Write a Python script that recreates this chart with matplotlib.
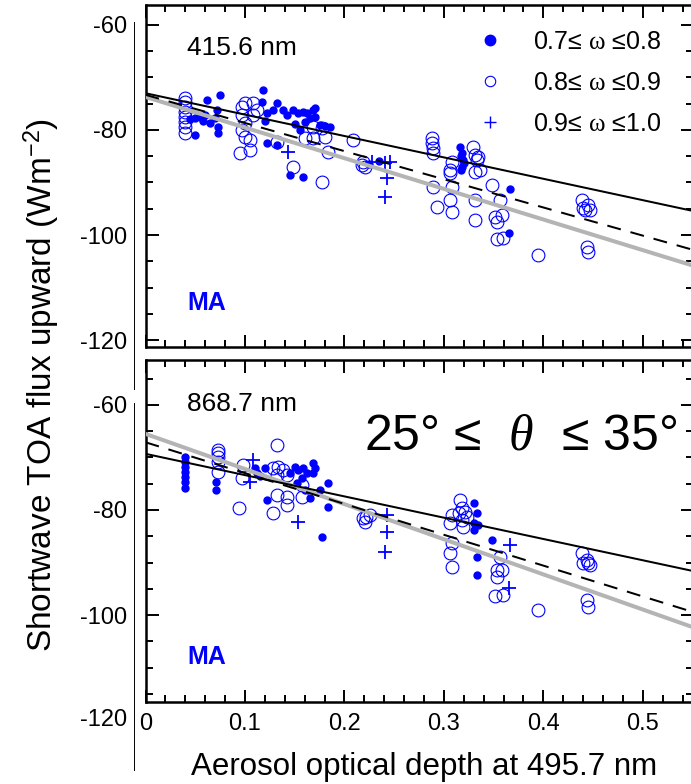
import matplotlib
matplotlib.use('Agg')
import matplotlib.pyplot as plt
from matplotlib.lines import Line2D
from matplotlib.ticker import MultipleLocator

plt.rcParams['font.family'] = ['Liberation Sans', 'DejaVu Sans']
plt.rcParams['axes.unicode_minus'] = False
plt.rcParams['mathtext.fontset'] = 'custom'
plt.rcParams['mathtext.rm'] = 'Liberation Serif'
plt.rcParams['mathtext.it'] = 'Liberation Serif:italic'

BLUE = '#0000ff'

# ---- fitted lines (value at AOD = 0 and AOD = 0.55)
fit_x = [0.0, 0.55]
top_fit_solid = [-73.0, -95.4]
top_fit_dashed = [-73.3, -102.8]
top_fit_gray = [-73.7, -105.8]
bot_fit_solid = [-69.3, -91.6]
bot_fit_dashed = [-67.1, -99.4]
bot_fit_gray = [-65.5, -102.3]

# ---- 415.6 nm panel
top_filled_x = [0.050, 0.055, 0.062, 0.060, 0.065, 0.070, 0.072, 0.075, 0.073, 0.073, 0.050, 0.045, 0.058,
                0.118, 0.117, 0.122, 0.128, 0.132, 0.138, 0.142, 0.148, 0.153, 0.158,
                0.162, 0.168, 0.170, 0.165, 0.160, 0.175, 0.180, 0.186, 0.170, 0.132,
                0.145, 0.158, 0.122, 0.120, 0.150, 0.155,
                0.225, 0.235,
                0.316, 0.318, 0.317, 0.319, 0.318, 0.317, 0.320,
                0.366, 0.365]
top_filled_y = [-77.7, -77.5, -74.3, -77.1, -78.7, -77.7, -76.2, -73.3, -80.6, -79.4, -81.0, -78.0, -78.3,
                -72.4, -74.7, -76.8, -76.2, -74.9, -76.2, -77.1, -76.2, -76.8, -76.6,
                -76.8, -76.2, -77.5, -77.8, -78.5, -79.0, -79.2, -79.4, -75.8, -82.9,
                -88.6, -89.0, -82.5, -78.3, -78.9, -80.0,
                -86.5, -86.0,
                -83.2, -84.4, -85.0, -85.7, -87.0, -87.6, -86.3,
                -91.3, -99.6]

top_open_x = [0.040, 0.040, 0.040, 0.040, 0.040, 0.040, 0.040, 0.040,
              0.100, 0.097, 0.108, 0.112, 0.097, 0.108, 0.100, 0.097, 0.100, 0.105, 0.095, 0.105,
              0.132, 0.148,
              0.160, 0.168, 0.177, 0.180, 0.183, 0.168, 0.177,
              0.209, 0.218, 0.221, 0.219,
              0.288, 0.288, 0.289, 0.289, 0.289, 0.293,
              0.306, 0.306, 0.308, 0.306, 0.308, 0.308,
              0.329, 0.331, 0.334, 0.333, 0.331, 0.336,
              0.348, 0.356, 0.331, 0.331, 0.351, 0.353, 0.358, 0.353, 0.359,
              0.395,
              0.439, 0.440, 0.445, 0.442, 0.447, 0.444, 0.445]
top_open_y = [-73.9, -74.7, -75.6, -76.6, -77.5, -78.5, -79.4, -80.6,
              -74.9, -75.6, -74.9, -76.2, -77.1, -77.1, -78.7, -80.0, -81.3, -81.9, -84.4, -83.8,
              -82.3, -87.0,
              -81.5, -81.5, -79.6, -81.3, -84.2, -79.4, -90.0,
              -81.9, -86.7, -87.0, -86.1,
              -81.5, -82.5, -83.4, -84.4, -90.9, -94.7,
              -88.2, -87.6, -86.1, -93.3, -95.6, -90.9,
              -83.2, -84.8, -85.1, -85.7, -88.0, -87.6,
              -90.5, -93.3, -93.3, -97.1, -96.6, -97.5, -96.2, -100.8, -100.6,
              -103.8,
              -93.3, -94.9, -94.3, -95.2, -95.2, -102.3, -103.2]

top_plus_x = [0.143, 0.228, 0.241, 0.246, 0.243, 0.241]
top_plus_y = [-84.2, -86.1, -86.3, -86.1, -89.1, -92.8]

# ---- 868.7 nm panel
bot_filled_x = [0.040, 0.040, 0.040, 0.040, 0.040, 0.040, 0.040,
                0.071, 0.071,
                0.110, 0.112, 0.120, 0.122, 0.150, 0.153, 0.158, 0.162, 0.157, 0.168,
                0.170, 0.168, 0.160, 0.175, 0.184, 0.183, 0.177, 0.152, 0.165, 0.115, 0.145,
                0.330, 0.333, 0.330, 0.334, 0.330, 0.333, 0.333, 0.348]
bot_filled_y = [-69.9, -70.9, -71.8, -72.8, -73.7, -74.7, -75.8,
                -74.7, -76.2,
                -72.0, -72.9, -72.0, -78.1, -71.8, -72.4, -72.0, -72.9, -73.9, -71.0,
                -72.0, -72.9, -76.2, -76.2, -74.9, -79.4, -85.1, -74.9, -77.7, -73.5, -73.0,
                -78.7, -80.6, -82.5, -82.9, -83.8, -89.0, -92.4, -85.7]

bot_open_x = [0.073, 0.073, 0.073, 0.073, 0.073,
              0.094, 0.098, 0.097,
              0.132, 0.128, 0.133, 0.138, 0.142, 0.132, 0.132, 0.142, 0.142, 0.128, 0.157, 0.157,
              0.219, 0.222, 0.226, 0.221,
              0.308, 0.306, 0.308, 0.306, 0.308, 0.316, 0.318, 0.321, 0.315, 0.318, 0.323, 0.319,
              0.356, 0.353, 0.358, 0.353, 0.351, 0.359,
              0.395,
              0.439, 0.440, 0.445, 0.444, 0.447, 0.444, 0.445]
bot_open_y = [-68.6, -69.1, -69.9, -70.9, -72.8,
              -79.6, -71.4, -73.9,
              -67.6, -72.0, -71.8, -72.4, -73.3, -73.3, -77.1, -77.5, -79.0, -80.6, -77.5, -75.2,
              -81.5, -81.3, -81.0, -82.3,
              -81.0, -82.5, -86.3, -88.2, -90.9, -78.1, -79.6, -80.4, -80.6, -81.9, -81.3, -83.2,
              -89.0, -91.4, -91.4, -92.8, -96.4, -96.2,
              -99.0,
              -88.2, -90.1, -90.1, -89.5, -90.5, -97.1, -98.5]

bot_plus_x = [0.108, 0.105, 0.153, 0.243, 0.243, 0.241, 0.366, 0.365]
bot_plus_y = [-70.5, -74.7, -82.3, -81.0, -84.2, -88.0, -86.7, -94.9]

legend_labels = [r'0.7≤ $\mathrm{\omega}$ ≤0.8',
                 r'0.8≤ $\mathrm{\omega}$ ≤0.9',
                 r'0.9≤ $\mathrm{\omega}$ ≤1.0']

fig = plt.figure(figsize=(6.91, 7.84), dpi=100)
L, W = 145.5 / 691, 547 / 691
ax1 = fig.add_axes([L, 1 - 347 / 784, W, 342.5 / 784])
ax2 = fig.add_axes([L, 1 - 702 / 784, W, 342 / 784])


def draw(ax, filled, opened, plus, solid, dashed, gray, ylim):
    ax.plot(*filled, ls='none', marker='o', ms=5, mfc=BLUE, mec=BLUE, zorder=2)
    ax.plot(*opened, ls='none', marker='o', ms=9.2, mfc='none', mec=BLUE, mew=0.8, zorder=2)
    ax.plot(*plus, ls='none', marker='+', ms=10.5, mec=BLUE, mew=1.3, zorder=2)
    ax.plot(fit_x, gray, color='#b4b4b4', lw=2.9, zorder=3, solid_capstyle='butt')
    ax.plot(fit_x, dashed, color='black', lw=1.44, dashes=(7, 5), zorder=4)
    ax.plot(fit_x, solid, color='black', lw=1.44, zorder=4)
    ax.set_xlim(0, 0.55)
    ax.set_ylim(*ylim)
    ax.xaxis.set_major_locator(MultipleLocator(0.1))
    ax.xaxis.set_minor_locator(MultipleLocator(0.02))
    ax.yaxis.set_major_locator(MultipleLocator(20))
    ax.yaxis.set_minor_locator(MultipleLocator(5))
    ax.tick_params(which='both', direction='in', top=True, right=True, width=1.4,
                   labelsize=17, colors='black')
    ax.tick_params(which='major', length=9)
    ax.tick_params(which='minor', length=5)
    ax.tick_params(axis='y', pad=13)
    ax.tick_params(axis='x', pad=8)
    for s in ax.spines.values():
        s.set_linewidth(1.8)


draw(ax1, (top_filled_x, top_filled_y), (top_open_x, top_open_y), (top_plus_x, top_plus_y),
     top_fit_solid, top_fit_dashed, top_fit_gray, (-121.33, -56.1))
draw(ax2, (bot_filled_x, bot_filled_y), (bot_open_x, bot_open_y), (bot_plus_x, bot_plus_y),
     bot_fit_solid, bot_fit_dashed, bot_fit_gray, (-116.57, -51.43))
ax1.tick_params(axis='x', labelbottom=False)
ax1.set_yticks([-60, -80, -100, -120])
ax2.set_yticks([-60, -80, -100])
ax2.set_xticks([0, 0.1, 0.2, 0.3, 0.4, 0.5])
ax2.set_xticklabels(['0', '0.1', '0.2', '0.3', '0.4', '0.5'])
# the -120 label of the lower panel sits below its frame
ax2.text(-0.034, -120, '-120', transform=ax2.get_yaxis_transform(),
         ha='right', va='center', fontsize=17)

ax1.text(0.076, 0.873, '415.6 nm', transform=ax1.transAxes, fontsize=19, va='center')
ax2.text(0.076, 0.871, '868.7 nm', transform=ax2.transAxes, fontsize=19, va='center')
for ax, yy in ((ax1, 0.128), (ax2, 0.132)):
    ax.text(0.076, yy, 'MA', transform=ax.transAxes, fontsize=18, fontweight='bold',
            color=BLUE, va='center')
ax2.text(0.685, 0.775, r'25° ≤  $\theta$  ≤ 35°', transform=ax2.transAxes,
         fontsize=36, ha='center', va='center')

handles = [Line2D([], [], ls='none', marker='o', ms=7.5, mfc=BLUE, mec=BLUE),
           Line2D([], [], ls='none', marker='o', ms=7.5, mfc='none', mec=BLUE, mew=0.8),
           Line2D([], [], ls='none', marker='+', ms=8, mec=BLUE, mew=1.0)]
ax1.legend(handles, legend_labels, loc='upper left', bbox_to_anchor=(0.607, 0.926),
           frameon=False, fontsize=18, handlelength=1.0, handletextpad=1.2,
           labelspacing=0.68, borderpad=0, borderaxespad=0)

fig.text(42 / 691, 1 - 385 / 784, r'Shortwave TOA flux upward (Wm$^{\mathregular{-2}}$)',
         rotation=90, ha='center', va='center', fontsize=24)
fig.text(424 / 691, 1 - 767 / 784, 'Aerosol optical depth at 495.7 nm',
         ha='center', va='center', fontsize=22.5)

# thin vertical rule left of the tick labels
fig.add_artist(Line2D([134 / 691, 134 / 691], [1 - 22 / 784, 1 - 389 / 784],
                      transform=fig.transFigure, color='black', lw=0.7))
fig.add_artist(Line2D([134 / 691, 134 / 691], [1 - 403 / 784, 1 - 770 / 784],
                      transform=fig.transFigure, color='black', lw=0.7))

fig.savefig('out.png', dpi=100)
